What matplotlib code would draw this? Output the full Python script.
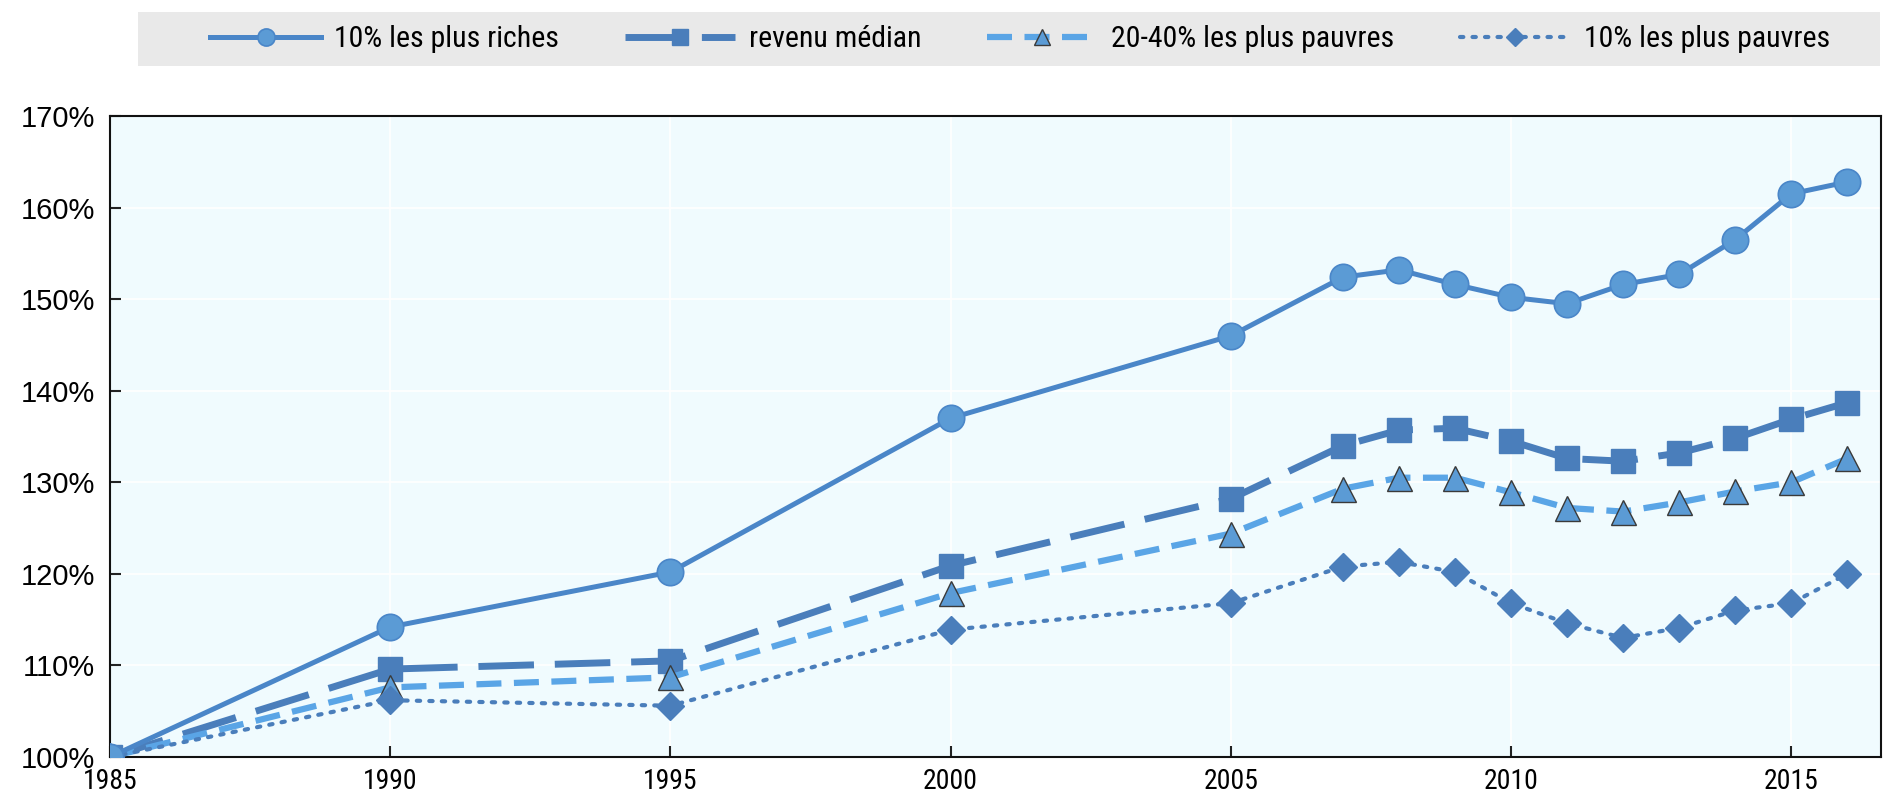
"""Revenu réel des ménages par groupe de revenu, base 100 en 1985."""

import matplotlib.pyplot as plt
from matplotlib.patches import Rectangle

YEARS = [1985, 1990, 1995, 2000, 2005, 2007, 2008, 2009, 2010, 2011, 2012,
         2013, 2014, 2015, 2016]

TOP10 = [100, 114.2, 120.2, 137.0, 146.0, 152.4, 153.2, 151.6, 150.2, 149.5,
         151.6, 152.7, 156.5, 161.5, 162.8]
MEDIAN = [100, 109.6, 110.5, 120.9, 128.2, 134.0, 135.7, 135.9, 134.5, 132.6,
          132.3, 133.2, 134.8, 136.9, 138.7]
POOR2040 = [100, 107.6, 108.7, 117.9, 124.4, 129.3, 130.5, 130.5, 128.9,
            127.2, 126.8, 127.8, 129.0, 130.0, 132.6]
BOTTOM10 = [100, 106.2, 105.6, 113.9, 116.8, 120.8, 121.3, 120.2, 116.8,
            114.6, 113.0, 114.1, 116.0, 116.8, 120.0]

LABELS = ["10% les plus riches", "revenu médian",
          "20-40% les plus pauvres", "10% les plus pauvres"]

XTICKS = [1985, 1990, 1995, 2000, 2005, 2010, 2015]
YTICKS = [100, 110, 120, 130, 140, 150, 160, 170]

NARROW = ["Roboto Condensed", "PT Sans Narrow", "Archivo Narrow",
          "Liberation Sans", "DejaVu Sans"]
REGULAR = ["Liberation Sans", "DejaVu Sans"]


def main():
    plt.rcParams["font.family"] = REGULAR
    fig = plt.figure(figsize=(18.88, 8.11), dpi=100)
    ax = fig.add_axes([110 / 1888, 1 - 757 / 811, 1771 / 1888, 641 / 811])
    ax.set_facecolor("#f0fbfe")

    ax.plot(YEARS, TOP10, color="#4a86c8", lw=3.6, marker="o", ms=19,
            mfc="#5b9bd5", mec="#4a86c8", mew=1.2, label=LABELS[0], zorder=5)
    ax.plot(YEARS, MEDIAN, color="#4a7ebb", lw=5, dashes=(8, 3), marker="s",
            ms=17, mfc="#4a7ebb", mec="#4a7ebb", label=LABELS[1], zorder=4)
    ax.plot(YEARS, POOR2040, color="#5aa5e6", lw=4.5, dashes=(4, 2),
            marker="^", ms=18, mfc="#5b9bd5", mec="#3a3a3a", mew=1.0,
            label=LABELS[2], zorder=4)
    ax.plot(YEARS, BOTTOM10, color="#4a7ebb", lw=3, dashes=(0.8, 2.2),
            dash_capstyle="round", marker="D", ms=14, mfc="#4a7ebb",
            mec="#4a7ebb", label=LABELS[3], zorder=4)

    ax.set_xlim(1985, 2016.6)
    ax.set_ylim(100, 170)
    ax.set_xticks(XTICKS)
    ax.set_yticks(YTICKS)
    ax.set_yticklabels([f"{v}%" for v in YTICKS], fontsize=21)
    ax.set_xticklabels([str(v) for v in XTICKS], fontsize=20, family=NARROW)
    ax.tick_params(direction="in", length=8, width=1.5, color="#222222")
    ax.tick_params(axis="y", pad=11)
    ax.tick_params(axis="x", pad=8)
    ax.grid(True, color="white", lw=1.2)
    ax.set_axisbelow(True)
    for side in ["left", "bottom", "top", "right"]:
        ax.spines[side].set_linewidth(1.5)
        ax.spines[side].set_color("#111111")

    # grey band behind the legend
    fig.patches.append(Rectangle((138 / 1888, 1 - 66 / 811), 1742 / 1888,
                                 54 / 811, transform=fig.transFigure,
                                 facecolor="#e9e9e9", edgecolor="none",
                                 zorder=0))
    handles, labels = ax.get_legend_handles_labels()
    fig.legend(handles, labels, loc="center", ncol=4,
               bbox_to_anchor=(1020 / 1888, 1 - 39 / 811),
               frameon=False, handlelength=3.7, handletextpad=0.45,
               columnspacing=2.2, markerscale=0.65,
               prop={"family": NARROW, "size": 21.5})

    fig.savefig("out.png", dpi=100)
    plt.close(fig)


if __name__ == "__main__":
    main()
